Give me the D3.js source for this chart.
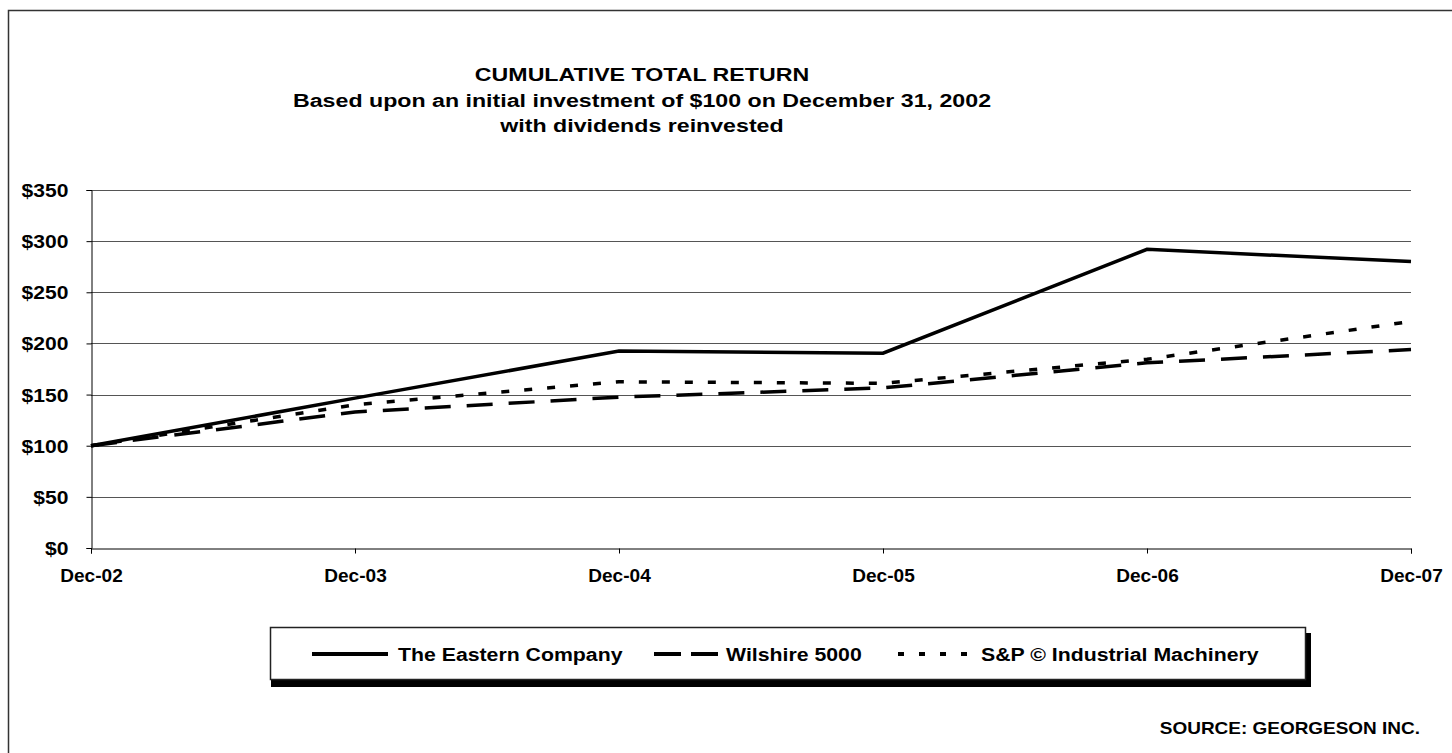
<!DOCTYPE html>
<html>
<head>
<meta charset="utf-8">
<script src="https://cdn.jsdelivr.net/npm/d3@7"></script>
<style>
  body { margin: 0; background: #fff; }
  text { font-family: "Liberation Sans", Arial, sans-serif; font-weight: bold; fill: #000; }
</style>
</head>
<body>
<div id="chart"></div>
<script>
// chart data
const periods = ['Dec-02', 'Dec-03', 'Dec-04', 'Dec-05', 'Dec-06', 'Dec-07'];
const easternCompany = [100, 146.5, 192.5, 190.5, 292, 280];
const wilshire5000 = [100, 133, 147.5, 156.5, 181, 194];
const spIndustrialMachinery = [100, 140, 162.5, 161, 184.5, 221.5];
const yTicks = [0, 50, 100, 150, 200, 250, 300, 350];
const titleLines = [
  'CUMULATIVE TOTAL RETURN',
  'Based upon an initial investment of $100 on December 31, 2002',
  'with dividends reinvested'
];

const series = [
  { name: 'The Eastern Company', values: easternCompany, dash: null, legendDash: null },
  { name: 'Wilshire 5000', values: wilshire5000, dash: '26,16', legendDash: '27,10' },
  { name: 'S&P \u00A9 Industrial Machinery', values: spIndustrialMachinery, dash: '8,15', legendDash: '6,15' }
];

// the original text is a bit wider than the font, so stretch it sideways
function stretch (sel, sx) {
  sel.each(function () {
    const t = d3.select(this);
    const tx = +t.attr('x') || 0;
    const ty = +t.attr('y') || 0;
    t.attr('x', 0).attr('y', 0)
      .attr('transform', `translate(${tx}, ${ty}) scale(${sx}, 1)`);
  });
}

function draw () {
  const svgWidth = 1452;
  const svgHeight = 753;
  const margin = { top: 190, right: 41, left: 91 };
  const width = svgWidth - margin.left - margin.right;
  const height = 548 - margin.top;

  const svg = d3.select('#chart')
    .append('svg')
    .attr('width', svgWidth)
    .attr('height', svgHeight);

  // outer frame (runs off the right and bottom edges)
  svg.append('rect')
    .attr('x', 8.5).attr('y', 10.5)
    .attr('width', 1500).attr('height', 800)
    .attr('fill', 'none')
    .attr('stroke', '#333')
    .attr('stroke-width', 1.5);

  // title
  svg.append('g')
    .selectAll('text')
    .data(titleLines)
    .join('text')
    .attr('x', 642)
    .attr('y', (d, i) => 81 + i * 25.5)
    .attr('text-anchor', 'middle')
    .style('font-size', '19px')
    .text(d => d)
    .call(stretch, 1.22);

  const g = svg.append('g')
    .attr('transform', `translate(${margin.left}, ${margin.top})`);

  const x = d3.scalePoint().domain(periods).range([0, width]);
  const y = d3.scaleLinear().domain([0, 350]).range([height, 0]);

  // gridlines
  g.append('g')
    .selectAll('line')
    .data(yTicks.filter(d => d > 0))
    .join('line')
    .attr('x1', 0).attr('x2', width)
    .attr('y1', d => Math.round(y(d)) + 0.5)
    .attr('y2', d => Math.round(y(d)) + 0.5)
    .attr('stroke', '#555')
    .attr('stroke-width', 1);

  // y axis
  const yAxis = g.append('g')
    .attr('transform', 'translate(0.5, 0)')
    .call(d3.axisLeft(y)
      .tickValues(yTicks)
      .tickSize(5)
      .tickPadding(18)
      .tickFormat(d => '$' + d));
  yAxis.select('.domain').attr('stroke', '#000');
  yAxis.selectAll('.tick line').attr('stroke', '#000');
  yAxis.selectAll('text')
    .style('font-size', '18.5px')
    .attr('dy', '0.35em')
    .call(stretch, 1.14);

  // x axis
  const xAxis = g.append('g')
    .attr('transform', `translate(0, ${height + 0.5})`)
    .call(d3.axisBottom(x).tickSize(5).tickPadding(16));
  xAxis.select('.domain').attr('stroke', '#000');
  xAxis.selectAll('.tick line').attr('stroke', '#000');
  xAxis.selectAll('text')
    .style('font-size', '18px')
    .call(stretch, 1.06);

  // lines
  const line = d3.line()
    .x((d, i) => x(periods[i]))
    .y(d => y(d));

  g.append('g')
    .selectAll('path')
    .data(series)
    .join('path')
    .attr('d', d => line(d.values))
    .attr('fill', 'none')
    .attr('stroke', '#000')
    .attr('stroke-width', 3.5)
    .attr('stroke-dasharray', d => d.dash);

  // legend
  const legend = svg.append('g');
  legend.append('rect')
    .attr('x', 271).attr('y', 633)
    .attr('width', 1040).attr('height', 54)
    .attr('fill', '#000');
  legend.append('rect')
    .attr('x', 270.5).attr('y', 627.5)
    .attr('width', 1035).attr('height', 52)
    .attr('fill', '#fff')
    .attr('stroke', '#222')
    .attr('stroke-width', 1.5);

  const legendItems = [
    { x1: 312, x2: 388, tx: 398 },
    { x1: 654, x2: 719, tx: 726 },
    { x1: 898, x2: 979, tx: 981 }
  ];
  const items = legend.selectAll('g.item')
    .data(series)
    .join('g')
    .attr('class', 'item');
  items.append('line')
    .attr('x1', (d, i) => legendItems[i].x1)
    .attr('x2', (d, i) => legendItems[i].x2)
    .attr('y1', 654).attr('y2', 654)
    .attr('stroke', '#000')
    .attr('stroke-width', 4)
    .attr('stroke-dasharray', d => d.legendDash);
  items.append('text')
    .attr('x', (d, i) => legendItems[i].tx)
    .attr('y', 661)
    .style('font-size', '18.5px')
    .text(d => d.name)
    .call(stretch, 1.15);

  // source note
  svg.append('text')
    .attr('x', 1420)
    .attr('y', 734)
    .attr('text-anchor', 'end')
    .style('font-size', '16.5px')
    .text('SOURCE: GEORGESON INC.')
    .call(stretch, 1.15);
}

draw();
</script>
</body>
</html>
